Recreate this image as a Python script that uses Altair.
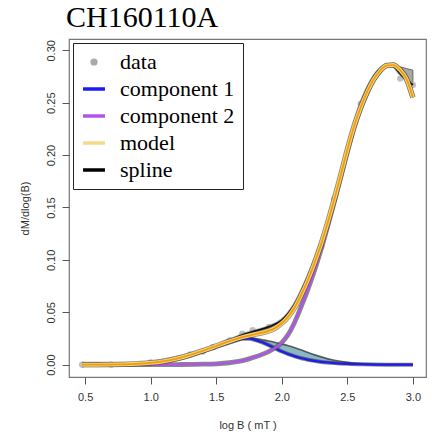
import altair as alt
import pandas as pd

# ---------------- data ----------------
# measured data points
data_x = [0.477, 0.699, 1.0, 1.301, 1.398, 1.477, 1.602, 1.699, 1.778, 1.903, 2.301, 2.398, 2.602, 2.903, 3.0]
data_y = [0.0, 0.0, 0.0022, 0.0098, 0.0125, 0.0168, 0.0232, 0.0296, 0.0328, 0.036, 0.113, 0.158, 0.249, 0.273, 0.267]

# model (orange)
model_x = [0.477, 0.6, 0.7, 0.8, 0.9, 1.0, 1.1, 1.2, 1.3, 1.4, 1.5, 1.6, 1.7, 1.8, 1.9, 1.95, 2.0, 2.05, 2.1,
           2.15, 2.2, 2.25, 2.3, 2.35, 2.4, 2.45, 2.5, 2.55, 2.6, 2.65, 2.7, 2.75, 2.8, 2.85, 2.9, 2.95, 3.0]
model_y = [0.0, 0.0, 0.0001, 0.0003, 0.0008, 0.0017, 0.0033, 0.0058, 0.0092, 0.0133, 0.0178, 0.0223, 0.0262,
           0.0292, 0.0322, 0.0350, 0.0395, 0.0460, 0.0550, 0.0670, 0.0810, 0.0970, 0.1150, 0.1355, 0.1575,
           0.1810, 0.2050, 0.2270, 0.2450, 0.2600, 0.2720, 0.2805, 0.2855, 0.2860, 0.2815, 0.2730, 0.2550]

# component 2 (purple)
comp2_x = [0.477, 1.0, 1.2, 1.4, 1.5, 1.6, 1.7, 1.75, 1.8, 1.85, 1.9, 1.95, 2.0, 2.05, 2.1, 2.15, 2.2, 2.25,
           2.3, 2.35, 2.4, 2.45, 2.5, 2.55, 2.6, 2.65, 2.7, 2.75, 2.8, 2.85, 2.9, 2.95, 3.0]
comp2_y = [0.0, 0.0, 0.0001, 0.0004, 0.0008, 0.0018, 0.0038, 0.0055, 0.0075, 0.0098, 0.0125, 0.0160, 0.0210,
           0.0290, 0.0410, 0.0560, 0.0720, 0.0900, 0.1100, 0.1320, 0.1550, 0.1790, 0.2030, 0.2255, 0.2440,
           0.2593, 0.2716, 0.2803, 0.2854, 0.2860, 0.2815, 0.2730, 0.2550]

# component 1 (blue)
comp1_x = [0.477, 0.7, 0.9, 1.0, 1.1, 1.2, 1.3, 1.4, 1.5, 1.6, 1.65, 1.7, 1.75, 1.8, 1.85, 1.9, 1.95, 2.0,
           2.05, 2.1, 2.15, 2.2, 2.3, 2.4, 2.5, 2.6, 2.7, 2.8, 2.9, 3.0]
comp1_y = [0.0, 0.0001, 0.0007, 0.0014, 0.0028, 0.0052, 0.0085, 0.0125, 0.0168, 0.0210, 0.0230, 0.0246,
           0.0247, 0.0234, 0.0213, 0.0186, 0.0155, 0.0125, 0.0100, 0.0079, 0.0061, 0.0046, 0.0026, 0.0015,
           0.0008, 0.0004, 0.0001, 0.0, 0.0, 0.0]

# upper edge of the component 1 band (lower edge is component 1 itself)
band1_x = [1.6, 1.65, 1.7, 1.75, 1.8, 1.85, 1.9, 1.95, 2.0, 2.05, 2.1, 2.15, 2.2, 2.3, 2.4, 2.5, 2.6, 2.7,
           2.8, 2.9, 3.0]
band1_hi = [0.0212, 0.0234, 0.0252, 0.0255, 0.0250, 0.0238, 0.0226, 0.0212, 0.0197, 0.0181, 0.0161, 0.0139,
            0.0116, 0.0074, 0.0042, 0.0022, 0.0010, 0.0004, 0.0001, 0.0, 0.0]

# spline (black)
spline_x = [0.477, 0.7, 0.9, 1.0, 1.1, 1.2, 1.3, 1.4, 1.5, 1.6, 1.7, 1.8, 1.9, 2.0, 2.05, 2.1, 2.15, 2.2,
            2.25, 2.3, 2.35, 2.4, 2.45, 2.5, 2.55, 2.6, 2.65, 2.7, 2.75, 2.8, 2.85, 2.9, 2.95, 3.0]
spline_y = [0.0, 0.0001, 0.0011, 0.0023, 0.0041, 0.0067, 0.0099, 0.0137, 0.0180, 0.0230, 0.0283, 0.0322,
            0.0360, 0.0425, 0.0490, 0.0580, 0.0700, 0.0840, 0.0995, 0.1170, 0.1370, 0.1590, 0.1825, 0.2065,
            0.2285, 0.2480, 0.2630, 0.2745, 0.2820, 0.2860, 0.2850, 0.2780, 0.2720, 0.2670]

# grey band at the top right (spline uncertainty)
gband_x = [2.8, 2.85, 2.9, 2.95, 3.0]
gband_hi = [0.2872, 0.2857, 0.2842, 0.2826, 0.2810]
gband_lo = [0.2860, 0.2850, 0.2780, 0.2720, 0.2670]

series_names = ["data", "component 1", "component 2", "model", "spline"]
series_colors = ["#a9a9a9", "#1c1cf2", "#b052ee", "#f3d98a", "#000000"]
series_shapes = ["circle", "stroke", "stroke", "stroke", "stroke"]
series_sizes = [14, 480, 480, 480, 480]

x_ticks = [0.5, 1.0, 1.5, 2.0, 2.5, 3.0]
y_ticks = [0.0, 0.05, 0.10, 0.15, 0.20, 0.25, 0.30]

# ---------------- tables ----------------
df_data = pd.DataFrame({"x": data_x, "y": data_y})
df_model = pd.DataFrame({"x": model_x, "y": model_y})
df_c2 = pd.DataFrame({"x": comp2_x, "y": comp2_y})
df_c1 = pd.DataFrame({"x": comp1_x, "y": comp1_y})
c1_lookup = dict(zip(comp1_x, comp1_y))
df_b1 = pd.DataFrame({"x": band1_x, "y": band1_hi, "y2": [c1_lookup[v] for v in band1_x]})
df_sp = pd.DataFrame({"x": spline_x, "y": spline_y})
df_gb = pd.DataFrame({"x": gband_x, "y": gband_hi, "y2": gband_lo})
df_leg = pd.DataFrame({"x": [data_x[0]] * 5, "y": [data_y[0]] * 5, "series": series_names})

xs = alt.Scale(domain=[0.377, 3.1], nice=False, zero=False)
ys = alt.Scale(domain=[-0.0118, 0.3108], nice=False, zero=False)
X = alt.X("x:Q", scale=xs, axis=alt.Axis(values=x_ticks, format=".1f", title="log B ( mT )",
                                         labelPadding=7, titlePadding=17, titleFontSize=11))
Y = alt.Y("y:Q", scale=ys, axis=alt.Axis(values=y_ticks, format=".2f", title="dM/dlog(B)",
                                         labelAngle=-90, labelAlign="center", labelBaseline="bottom",
                                         labelPadding=6, titlePadding=15, titleFontSize=11))
Y2 = alt.Y2("y2:Q")


def line(df, color, width, opacity=1.0):
    return alt.Chart(df).mark_line(color=color, strokeWidth=width, opacity=opacity,
                                   interpolate="monotone").encode(x=X, y=Y)


band1 = alt.Chart(df_b1).mark_area(color="#8cb8c6", interpolate="monotone").encode(x=X, y=Y, y2=Y2)
band1_edge = line(df_b1, "#3a3a3a", 1.6, 0.8)
gband = alt.Chart(df_gb).mark_area(color="#a8a8a8", stroke="#666666", strokeWidth=1).encode(x=X, y=Y, y2=Y2)
points = alt.Chart(df_data).mark_circle(color="#c0c0c0", size=40, opacity=1).encode(x=X, y=Y)

c2_halo = line(df_c2, "#555555", 4.8, 0.7)
c2_line = line(df_c2, "#b052ee", 2.2)
c1_halo = line(df_c1, "#333333", 4.0, 0.6)
c1_line = line(df_c1, "#1c1cf2", 2.2)
sp_halo = line(df_sp, "#777777", 3.6, 0.55)
sp_line = line(df_sp, "#111111", 1.8)
m_halo = line(df_model, "#333333", 5.6, 0.5)
m_band = line(df_model, "#f6d36a", 4.0)
m_line = line(df_model, "#f29a0c", 1.7)

leg = alt.Legend(title=None, orient="top-left", offset=4, fillColor="white", strokeColor="#222222",
                 padding=8, labelFont="Liberation Serif", labelFontSize=22, labelColor="black",
                 labelOffset=13, rowPadding=3, symbolStrokeWidth=3.5, symbolOpacity=1,
                 symbolFillColor="#a9a9a9", cornerRadius=0, labelLimit=300)
legend_layer = alt.Chart(df_leg).mark_point(filled=False, opacity=0).encode(
    x=X, y=Y,
    color=alt.Color("series:N", scale=alt.Scale(domain=series_names, range=series_colors), legend=leg),
    shape=alt.Shape("series:N", scale=alt.Scale(domain=series_names, range=series_shapes), legend=leg),
    size=alt.Size("series:N", scale=alt.Scale(type="ordinal", domain=series_names, range=series_sizes),
                  legend=leg),
)

chart = alt.layer(
    band1, band1_edge, gband, points,
    c1_halo, c1_line, c2_halo, c2_line,
    sp_halo, sp_line, m_halo, m_band, m_line,
    legend_layer,
).properties(
    width=357, height=338,
    title=alt.TitleParams("CH160110A", anchor="start", frame="group", font="Liberation Serif",
                          fontSize=30, fontWeight="normal", color="black", offset=6, dx=-3),
    autosize=alt.AutoSizeParams(type="none"),
    padding={"left": 61, "top": 31, "right": 6, "bottom": 58},
).configure_axis(
    labelFont="Liberation Sans", labelFontSize=11, labelColor="#333333",
    titleFont="Liberation Sans", titleColor="#333333", titleFontWeight="normal",
    tickColor="#555555", tickSize=7, domain=False, grid=False,
).configure_view(stroke="#777777", strokeWidth=1.2)

chart.save("out.html", embed_options={"renderer": "svg", "actions": False})
